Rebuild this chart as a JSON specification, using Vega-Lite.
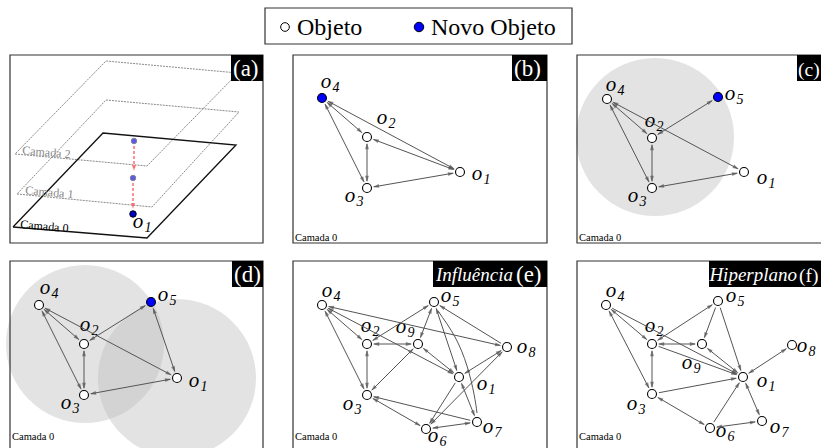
{
"$schema": "https://vega.github.io/schema/vega-lite/v6.json",
"width": 821, "height": 448, "autosize": {"type": "none"}, "padding": 0,
"config": {"view": {"stroke": null}, "text": {"font": "'Liberation Serif', 'Times New Roman', Times, 'DejaVu Serif', serif"}},
"datasets": {
"boxes": [
{"x":10,"x2":263,"y":55,"y2":243},{"x":293,"x2":547,"y":55,"y2":243},{"x":577,"x2":830,"y":55,"y2":243},
{"x":10,"x2":263,"y":261,"y2":460},{"x":293,"x2":547,"y":261,"y2":460},{"x":577,"x2":830,"y":261,"y2":460},
{"x":265,"x2":572,"y":8,"y2":44}],
"tags": [
{"x":231,"x2":263,"y":55,"y2":81},{"x":512,"x2":547,"y":55,"y2":81},{"x":797,"x2":830,"y":55,"y2":81},
{"x":232,"x2":263,"y":261,"y2":287},{"x":433,"x2":547,"y":261,"y2":287},{"x":709,"x2":830,"y":261,"y2":287}],
"tagn": [
{"x":233,"y":76,"t":"(a)"},{"x":514,"y":76,"t":"(b)"},
{"x":234,"y":282,"t":"(d)"},{"x":516,"y":282,"t":"(e)"}],
"tagedge": [{"x":798,"y":76,"t":"(c)"},{"x":799,"y":282,"t":"(f)"}],
"tagi": [{"x":513,"y":281,"t":"Influência"},{"x":797,"y":281,"t":"Hiperplano"}],
"zones": [{"x":655,"y":137},{"x":85,"y":344},{"x":177,"y":378}],
"planes": [
{"pl":"2","i":0,"x":15,"y":154},{"pl":"2","i":1,"x":147,"y":166},{"pl":"2","i":2,"x":238,"y":73},{"pl":"2","i":3,"x":106,"y":61},{"pl":"2","i":4,"x":15,"y":154},
{"pl":"1","i":0,"x":17,"y":194},{"pl":"1","i":1,"x":152,"y":207},{"pl":"1","i":2,"x":239,"y":112},{"pl":"1","i":3,"x":106,"y":100},{"pl":"1","i":4,"x":17,"y":194},
{"pl":"0","i":0,"x":13,"y":227},{"pl":"0","i":1,"x":147,"y":238},{"pl":"0","i":2,"x":236,"y":145},{"pl":"0","i":3,"x":103,"y":133},{"pl":"0","i":4,"x":13,"y":227}],
"camadas": [{"x":22,"y":154,"t":"Camada 2","lv":2},{"x":25,"y":194,"t":"Camada 1","lv":1},{"x":20,"y":228,"t":"Camada 0","lv":0}],
"drops": [{"x":134,"y":146,"y2":168},{"x":133,"y":183,"y2":206}],
"apts": [{"x":134,"y":141,"lv":2},{"x":133,"y":178,"lv":1},{"x":133,"y":214,"lv":0}],
"camada0": [{"x":295,"y":241},{"x":579,"y":241},{"x":12,"y":440},{"x":295,"y":440},{"x":579,"y":440}],
"nodes": [
{"k":"b4","x":322,"y":98,"nv":true},{"k":"b2","x":367,"y":137},{"k":"b1","x":460,"y":172},{"k":"b3","x":367,"y":188},
{"k":"c4","x":607,"y":99},{"k":"c2","x":652,"y":138},{"k":"c1","x":744,"y":172},{"k":"c3","x":652,"y":188},{"k":"c5","x":718,"y":97,"nv":true},
{"k":"d4","x":39,"y":305},{"k":"d2","x":84,"y":344},{"k":"d1","x":177,"y":378},{"k":"d3","x":84,"y":395},{"k":"d5","x":151,"y":302,"nv":true},
{"k":"e4","x":322,"y":305},{"k":"e5","x":434,"y":302},{"k":"e2","x":367,"y":344},{"k":"e9","x":418,"y":344},{"k":"e8","x":507,"y":347},{"k":"e1","x":459,"y":377},{"k":"e3","x":367,"y":395},{"k":"e6","x":426,"y":429},{"k":"e7","x":477,"y":422},
{"k":"f4","x":606,"y":305},{"k":"f5","x":718,"y":301},{"k":"f2","x":652,"y":344},{"k":"f9","x":702,"y":344},{"k":"f8","x":792,"y":345},{"k":"f1","x":743,"y":377},{"k":"f3","x":652,"y":394},{"k":"f6","x":710,"y":428},{"k":"f7","x":762,"y":421}],
"edges": [
{"ka":"b4","kb":"b2","ha":1,"hb":1},{"ka":"b4","kb":"b1","ha":1,"hb":1},{"ka":"b4","kb":"b3","ha":1,"hb":1},{"ka":"b2","kb":"b1","ha":1,"hb":1},{"ka":"b2","kb":"b3","ha":1,"hb":1},{"ka":"b3","kb":"b1","ha":1,"hb":1},
{"ka":"c4","kb":"c2","ha":1,"hb":1},{"ka":"c4","kb":"c1","ha":1,"hb":1},{"ka":"c4","kb":"c3","ha":1,"hb":1},{"ka":"c2","kb":"c3","ha":1,"hb":1},{"ka":"c3","kb":"c1","ha":1,"hb":1},{"ka":"c5","kb":"c2","ha":1,"hb":1},
{"ka":"d4","kb":"d2","ha":1,"hb":1},{"ka":"d4","kb":"d1","ha":1,"hb":1},{"ka":"d4","kb":"d3","ha":1,"hb":1},{"ka":"d2","kb":"d3","ha":1,"hb":1},{"ka":"d3","kb":"d1","ha":1,"hb":1},{"ka":"d5","kb":"d2","ha":1,"hb":1},{"ka":"d5","kb":"d1","ha":1,"hb":1},
{"ka":"e4","kb":"e2","ha":1,"hb":1},{"ka":"e4","kb":"e3","ha":1,"hb":1},{"ka":"e4","kb":"e1","ha":1,"hb":1},{"ka":"e4","kb":"e8","ha":1,"hb":1},{"ka":"e2","kb":"e3","ha":1,"hb":1},{"ka":"e2","kb":"e9","ha":1,"hb":1},{"ka":"e2","kb":"e5","ha":1,"hb":1},{"ka":"e9","kb":"e5","ha":1,"hb":1},{"ka":"e9","kb":"e3","ha":1,"hb":1},{"ka":"e9","kb":"e1","ha":1,"hb":1},{"ka":"e5","kb":"e1","ha":0,"hb":1},{"ka":"e5","kb":"e8","ha":1,"hb":0},{"ka":"e5","kb":"e7","ha":1,"hb":0,"cv":1},{"ka":"e8","kb":"e1","ha":1,"hb":1},{"ka":"e8","kb":"e6","ha":1,"hb":1},{"ka":"e1","kb":"e6","ha":0,"hb":1},{"ka":"e1","kb":"e7","ha":1,"hb":1},{"ka":"e3","kb":"e6","ha":1,"hb":1},{"ka":"e3","kb":"e7","ha":1,"hb":0},{"ka":"e6","kb":"e7","ha":1,"hb":1},
{"ka":"f4","kb":"f2","ha":1,"hb":1},{"ka":"f4","kb":"f3","ha":1,"hb":1},{"ka":"f4","kb":"f1","ha":0,"hb":1},{"ka":"f2","kb":"f5","ha":1,"hb":1},{"ka":"f2","kb":"f9","ha":1,"hb":1},{"ka":"f2","kb":"f1","ha":0,"hb":1},{"ka":"f2","kb":"f3","ha":1,"hb":1},{"ka":"f5","kb":"f9","ha":0,"hb":1},{"ka":"f5","kb":"f1","ha":0,"hb":1},{"ka":"f9","kb":"f1","ha":1,"hb":1},{"ka":"f8","kb":"f1","ha":1,"hb":1},{"ka":"f3","kb":"f1","ha":0,"hb":1},{"ka":"f3","kb":"f6","ha":1,"hb":1},{"ka":"f6","kb":"f1","ha":0,"hb":1},{"ka":"f1","kb":"f7","ha":1,"hb":1},{"ka":"f6","kb":"f7","ha":1,"hb":1}],
"curve": [{"i":0,"x":438,"y":311},{"i":1,"x":455,"y":337},{"i":2,"x":467,"y":366},{"i":3,"x":474,"y":394},{"i":4,"x":477,"y":413}],
"labs": [
{"x":138,"y":223,"n":"1"},
{"x":326,"y":83,"n":"4"},{"x":382,"y":119,"n":"2"},{"x":477,"y":175,"n":"1"},{"x":350,"y":197,"n":"3"},
{"x":611,"y":86,"n":"4"},{"x":730,"y":95,"n":"5"},{"x":650,"y":122,"n":"2"},{"x":762,"y":179,"n":"1"},{"x":633,"y":197,"n":"3"},
{"x":45,"y":289,"n":"4"},{"x":163,"y":296,"n":"5"},{"x":85,"y":326,"n":"2"},{"x":194,"y":382,"n":"1"},{"x":66,"y":404,"n":"3"},
{"x":327,"y":292,"n":"4"},{"x":446,"y":297,"n":"5"},{"x":366,"y":327,"n":"2"},{"x":401,"y":328,"n":"9"},{"x":522,"y":348,"n":"8"},{"x":482,"y":385,"n":"1"},{"x":348,"y":405,"n":"3"},{"x":433,"y":437,"n":"6"},{"x":488,"y":428,"n":"7"},
{"x":611,"y":292,"n":"4"},{"x":731,"y":297,"n":"5"},{"x":650,"y":327,"n":"2"},{"x":687,"y":364,"n":"9"},{"x":802,"y":347,"n":"8"},{"x":762,"y":382,"n":"1"},{"x":632,"y":405,"n":"3"},{"x":721,"y":432,"n":"6"},{"x":775,"y":428,"n":"7"}],
"legsym": [{"x":285,"y":27,"nv":false},{"x":419,"y":27,"nv":true}],
"legtxt": [{"x":297,"y":35,"t":"Objeto"},{"x":431,"y":35,"t":"Novo Objeto"}]
},
"layer": [
{"data":{"name":"zones"},"mark":{"type":"point","shape":"circle","filled":true,"size":24964,"color":"#bdbdbd","opacity":0.42,"strokeWidth":0},
 "encoding":{"x":{"field":"x","type":"quantitative","scale":{"domain":[0,821],"nice":false,"zero":false},"axis":null},
  "y":{"field":"y","type":"quantitative","scale":{"domain":[0,448],"nice":false,"zero":false,"reverse":true},"axis":null}}},
{"data":{"name":"boxes"},"mark":{"type":"rect","fill":null,"fillOpacity":0,"stroke":"#333","strokeWidth":1.2},
 "encoding":{"x":{"field":"x","type":"quantitative","scale":{"domain":[0,821],"nice":false,"zero":false},"axis":null},"x2":{"field":"x2"},
  "y":{"field":"y","type":"quantitative","scale":{"domain":[0,448],"nice":false,"zero":false,"reverse":true},"axis":null},"y2":{"field":"y2"}}},
{"data":{"name":"planes"},"transform":[{"filter":"datum.pl != '0'"}],"mark":{"type":"line","color":"#8a8a8a","strokeWidth":1,"strokeDash":[2,1]},
 "encoding":{"x":{"field":"x","type":"quantitative","scale":{"domain":[0,821],"nice":false,"zero":false},"axis":null},
  "y":{"field":"y","type":"quantitative","scale":{"domain":[0,448],"nice":false,"zero":false,"reverse":true},"axis":null},
  "order":{"field":"i"},"detail":{"field":"pl"}}},
{"data":{"name":"planes"},"transform":[{"filter":"datum.pl == '0'"}],"mark":{"type":"line","color":"#111","strokeWidth":1.3},
 "encoding":{"x":{"field":"x","type":"quantitative","scale":{"domain":[0,821],"nice":false,"zero":false},"axis":null},
  "y":{"field":"y","type":"quantitative","scale":{"domain":[0,448],"nice":false,"zero":false,"reverse":true},"axis":null},
  "order":{"field":"i"}}},
{"data":{"name":"camadas"},"mark":{"type":"text","fontSize":12,"align":"left","baseline":"alphabetic","angle":5},
 "encoding":{"x":{"field":"x","type":"quantitative","scale":{"domain":[0,821],"nice":false,"zero":false},"axis":null},
  "y":{"field":"y","type":"quantitative","scale":{"domain":[0,448],"nice":false,"zero":false,"reverse":true},"axis":null},
  "text":{"field":"t"},"color":{"condition":{"test":"datum.lv > 0","value":"#888888"},"value":"#000000"}}},
{"data":{"name":"drops"},"mark":{"type":"rule","color":"#ff5a5a","strokeWidth":1.3,"strokeDash":[3,2]},
 "encoding":{"x":{"field":"x","type":"quantitative","scale":{"domain":[0,821],"nice":false,"zero":false},"axis":null},
  "y":{"field":"y","type":"quantitative","scale":{"domain":[0,448],"nice":false,"zero":false,"reverse":true},"axis":null},"y2":{"field":"y2"}}},
{"data":{"name":"drops"},"mark":{"type":"point","shape":"M0,1L0.7,-1L-0.7,-1Z","filled":true,"size":36,"color":"#ff5a5a","strokeWidth":0},
 "encoding":{"x":{"field":"x","type":"quantitative","scale":{"domain":[0,821],"nice":false,"zero":false},"axis":null},
  "y":{"field":"y2","type":"quantitative","scale":{"domain":[0,448],"nice":false,"zero":false,"reverse":true},"axis":null}}},
{"data":{"name":"apts"},"mark":{"type":"point","shape":"circle","filled":true,"strokeWidth":1,"opacity":1},
 "encoding":{"x":{"field":"x","type":"quantitative","scale":{"domain":[0,821],"nice":false,"zero":false},"axis":null},
  "y":{"field":"y","type":"quantitative","scale":{"domain":[0,448],"nice":false,"zero":false,"reverse":true},"axis":null},
  "fill":{"condition":{"test":"datum.lv > 0","value":"#5b5be0"},"value":"#0000cc"},
  "stroke":{"condition":{"test":"datum.lv > 0","value":"#8080a0"},"value":"#000000"},
  "size":{"condition":{"test":"datum.lv > 0","value":30},"value":42}}},
{"data":{"name":"labs"},"mark":{"type":"text","fontStyle":"italic","fontSize":21,"align":"center","baseline":"alphabetic","dy":4.5,"color":"#000"},
 "encoding":{"x":{"field":"x","type":"quantitative","scale":{"domain":[0,821],"nice":false,"zero":false},"axis":null},
  "y":{"field":"y","type":"quantitative","scale":{"domain":[0,448],"nice":false,"zero":false,"reverse":true},"axis":null},
  "text":{"value":"o"}}},
{"data":{"name":"labs"},"mark":{"type":"text","fontStyle":"italic","fontSize":14,"align":"center","baseline":"alphabetic","dx":10,"dy":8.5,"color":"#000"},
 "encoding":{"x":{"field":"x","type":"quantitative","scale":{"domain":[0,821],"nice":false,"zero":false},"axis":null},
  "y":{"field":"y","type":"quantitative","scale":{"domain":[0,448],"nice":false,"zero":false,"reverse":true},"axis":null},
  "text":{"field":"n"}}},
{"data":{"name":"edges"},"transform":[
  {"lookup":"ka","from":{"data":{"name":"nodes"},"key":"k","fields":["x","y"]},"as":["xa","ya"]},
  {"lookup":"kb","from":{"data":{"name":"nodes"},"key":"k","fields":["x","y"]},"as":["xb","yb"]},
  {"filter":"!datum.cv"},
  {"calculate":"sqrt(pow(datum.xb-datum.xa,2)+pow(datum.yb-datum.ya,2))","as":"L"},
  {"calculate":"(datum.xb-datum.xa)/datum.L","as":"ux"},
  {"calculate":"(datum.yb-datum.ya)/datum.L","as":"uy"},
  {"calculate":"datum.xa+7*datum.ux","as":"x1"},{"calculate":"datum.ya+7*datum.uy","as":"y1"},
  {"calculate":"datum.xb-7*datum.ux","as":"x2e"},{"calculate":"datum.yb-7*datum.uy","as":"y2e"}],
 "mark":{"type":"rule","color":"#555","strokeWidth":1},
 "encoding":{"x":{"field":"x1","type":"quantitative","scale":{"domain":[0,821],"nice":false,"zero":false},"axis":null},"x2":{"field":"x2e"},
  "y":{"field":"y1","type":"quantitative","scale":{"domain":[0,448],"nice":false,"zero":false,"reverse":true},"axis":null},"y2":{"field":"y2e"}}},
{"data":{"name":"curve"},"mark":{"type":"line","color":"#555","strokeWidth":1,"interpolate":"natural"},
 "encoding":{"x":{"field":"x","type":"quantitative","scale":{"domain":[0,821],"nice":false,"zero":false},"axis":null},
  "y":{"field":"y","type":"quantitative","scale":{"domain":[0,448],"nice":false,"zero":false,"reverse":true},"axis":null},
  "order":{"field":"i"}}},
{"data":{"name":"edges"},"transform":[
  {"lookup":"ka","from":{"data":{"name":"nodes"},"key":"k","fields":["x","y"]},"as":["xa","ya"]},
  {"lookup":"kb","from":{"data":{"name":"nodes"},"key":"k","fields":["x","y"]},"as":["xb","yb"]},
  {"calculate":"sqrt(pow(datum.xb-datum.xa,2)+pow(datum.yb-datum.ya,2))","as":"L"},
  {"calculate":"(datum.xb-datum.xa)/datum.L","as":"ux"},
  {"calculate":"(datum.yb-datum.ya)/datum.L","as":"uy"},
  {"fold":["ha","hb"],"as":["end","on"]},
  {"filter":"datum.on == 1"},
  {"calculate":"datum.end == 'ha' ? datum.xa+9*datum.ux : datum.xb-9*datum.ux","as":"hx"},
  {"calculate":"datum.end == 'ha' ? datum.ya+9*datum.uy : datum.yb-9*datum.uy","as":"hy"},
  {"calculate":"datum.end == 'ha' ? atan2(-datum.ux, datum.uy)*180/PI : atan2(datum.ux, -datum.uy)*180/PI","as":"ang"}],
 "mark":{"type":"point","shape":"M0,-1L0.6,1L-0.6,1Z","filled":true,"size":40,"color":"#555","strokeWidth":0},
 "encoding":{"x":{"field":"hx","type":"quantitative","scale":{"domain":[0,821],"nice":false,"zero":false},"axis":null},
  "y":{"field":"hy","type":"quantitative","scale":{"domain":[0,448],"nice":false,"zero":false,"reverse":true},"axis":null},
  "angle":{"field":"ang","type":"quantitative","scale":null}}},
{"data":{"name":"nodes"},"mark":{"type":"point","shape":"circle","filled":true,"size":80,"stroke":"#000","strokeWidth":1.1,"opacity":1},
 "encoding":{"x":{"field":"x","type":"quantitative","scale":{"domain":[0,821],"nice":false,"zero":false},"axis":null},
  "y":{"field":"y","type":"quantitative","scale":{"domain":[0,448],"nice":false,"zero":false,"reverse":true},"axis":null},
  "fill":{"condition":{"test":"datum.nv === true","value":"#0000ff"},"value":"#ffffff"}}},
{"data":{"name":"tags"},"mark":{"type":"rect","color":"#000"},
 "encoding":{"x":{"field":"x","type":"quantitative","scale":{"domain":[0,821],"nice":false,"zero":false},"axis":null},"x2":{"field":"x2"},
  "y":{"field":"y","type":"quantitative","scale":{"domain":[0,448],"nice":false,"zero":false,"reverse":true},"axis":null},"y2":{"field":"y2"}}},
{"data":{"name":"tagn"},"mark":{"type":"text","fontSize":23,"align":"left","baseline":"alphabetic","color":"#fff"},
 "encoding":{"x":{"field":"x","type":"quantitative","scale":{"domain":[0,821],"nice":false,"zero":false},"axis":null},
  "y":{"field":"y","type":"quantitative","scale":{"domain":[0,448],"nice":false,"zero":false,"reverse":true},"axis":null},
  "text":{"field":"t"}}},
{"data":{"name":"tagedge"},"mark":{"type":"text","fontSize":19.5,"align":"left","baseline":"alphabetic","color":"#fff"},
 "encoding":{"x":{"field":"x","type":"quantitative","scale":{"domain":[0,821],"nice":false,"zero":false},"axis":null},
  "y":{"field":"y","type":"quantitative","scale":{"domain":[0,448],"nice":false,"zero":false,"reverse":true},"axis":null},
  "text":{"field":"t"}}},
{"data":{"name":"tagi"},"mark":{"type":"text","fontStyle":"italic","fontSize":19,"align":"right","baseline":"alphabetic","color":"#fff"},
 "encoding":{"x":{"field":"x","type":"quantitative","scale":{"domain":[0,821],"nice":false,"zero":false},"axis":null},
  "y":{"field":"y","type":"quantitative","scale":{"domain":[0,448],"nice":false,"zero":false,"reverse":true},"axis":null},
  "text":{"field":"t"}}},
{"data":{"name":"camada0"},"mark":{"type":"text","fontSize":10.5,"align":"left","baseline":"alphabetic","color":"#000"},
 "encoding":{"x":{"field":"x","type":"quantitative","scale":{"domain":[0,821],"nice":false,"zero":false},"axis":null},
  "y":{"field":"y","type":"quantitative","scale":{"domain":[0,448],"nice":false,"zero":false,"reverse":true},"axis":null},
  "text":{"value":"Camada 0"}}},
{"data":{"name":"legsym"},"mark":{"type":"point","shape":"circle","filled":true,"stroke":"#000","strokeWidth":1,"opacity":1},
 "encoding":{"x":{"field":"x","type":"quantitative","scale":{"domain":[0,821],"nice":false,"zero":false},"axis":null},
  "y":{"field":"y","type":"quantitative","scale":{"domain":[0,448],"nice":false,"zero":false,"reverse":true},"axis":null},
  "fill":{"condition":{"test":"datum.nv === true","value":"#0000ff"},"value":"#ffffff"},
  "size":{"condition":{"test":"datum.nv === true","value":90},"value":75}}},
{"data":{"name":"legtxt"},"mark":{"type":"text","fontSize":24,"align":"left","baseline":"alphabetic","color":"#000"},
 "encoding":{"x":{"field":"x","type":"quantitative","scale":{"domain":[0,821],"nice":false,"zero":false},"axis":null},
  "y":{"field":"y","type":"quantitative","scale":{"domain":[0,448],"nice":false,"zero":false,"reverse":true},"axis":null},
  "text":{"field":"t"}}}
]
}
